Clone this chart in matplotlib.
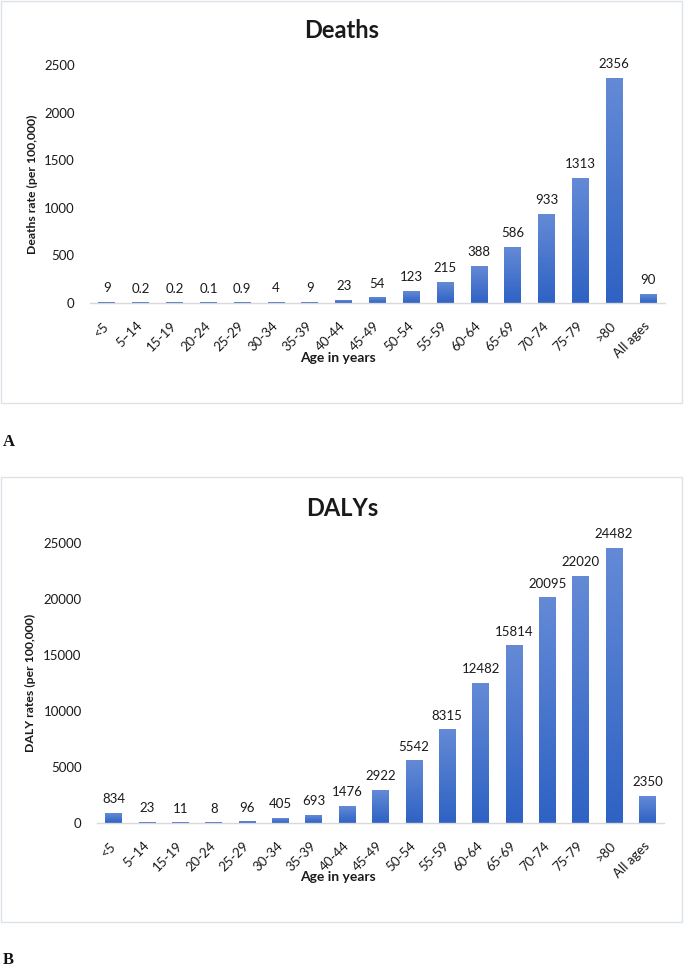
import matplotlib
matplotlib.use("Agg")
import matplotlib.pyplot as plt
import matplotlib.transforms as mtransforms
import numpy as np
from matplotlib.patches import Rectangle

plt.rcParams['font.family'] = ['Lato', 'DejaVu Sans']

age_groups = ["<5", "5–14", "15-19", "20-24", "25-29", "30-34", "35-39", "40-44", "45-49",
              "50-54", "55-59", "60-64", "65-69", "70-74", "75-79", ">80", "All ages"]
deaths = [9, 0.2, 0.2, 0.1, 0.9, 4, 9, 23, 54, 123, 215, 388, 586, 933, 1313, 2356, 90]
dalys = [834, 23, 11, 8, 96, 405, 693, 1476, 2922, 5542, 8315, 12482, 15814, 20095, 22020, 24482, 2350]
death_ticks = [0, 500, 1000, 1500, 2000, 2500]
daly_ticks = [0, 5000, 10000, 15000, 20000, 25000]

W, H = 684, 968
fig = plt.figure(figsize=(W / 100, H / 100), dpi=100)


def fx(px):
    return px / W


def fy(py):
    return 1 - py / H


def panel_box(top, bottom, left=1, right=682):
    fig.add_artist(Rectangle((fx(left), fy(bottom)), fx(right - left), (bottom - top) / H,
                             transform=fig.transFigure, fill=False,
                             edgecolor="#DDE2E8", linewidth=1.0))


top_col = np.array([0x64, 0x8A, 0xD6]) / 255
bot_col = np.array([0x2E, 0x62, 0xC4]) / 255
grad = np.linspace(0, 1, 64)[:, None, None]
grad_img = top_col * (1 - grad) + bot_col * grad  # row 0 = top

TXT = "#1a1a1a"


def draw_chart(ax, values, ticks, title, ylabel, title_y, xlabel_y, ylabel_x, ymax):
    n = len(values)
    x = np.arange(n)
    w = 0.5
    bars = ax.bar(x, values, width=w, color="none", edgecolor="none")
    for b, v in zip(bars, values):
        if v <= 0:
            continue
        ax.imshow(grad_img, extent=[b.get_x(), b.get_x() + w, 0, v],
                  aspect="auto", origin="upper", zorder=2, interpolation="bilinear")
    ax.set_xlim(-0.5, n - 0.5)
    ax.set_ylim(0, ymax)
    ax.set_yticks(ticks)
    ax.set_yticklabels([str(t) for t in ticks], fontsize=9.5, color=TXT)
    ax.set_xticks(x)
    ax.set_xticklabels(age_groups, rotation=45, ha="right", va="center",
                       rotation_mode="anchor", fontsize=9.5, color=TXT)
    off = mtransforms.ScaledTranslation(6 / 100, 0, fig.dpi_scale_trans)
    for lab in ax.get_xticklabels():
        lab.set_transform(lab.get_transform() + off)
    ax.tick_params(axis="both", length=0)
    ax.tick_params(axis="x", pad=15)
    ax.tick_params(axis="y", pad=11)
    for s in ["top", "right", "left"]:
        ax.spines[s].set_visible(False)
    ax.spines["bottom"].set_color("#D9D9D9")
    ax.spines["bottom"].set_linewidth(1.0)
    for xi, v in zip(x, values):
        ax.annotate("{:g}".format(v), (xi, v), xytext=(0, 6), textcoords="offset points",
                    ha="center", va="bottom", fontsize=9.5, color=TXT)
    pos = ax.get_position()
    fig.text(fx(ylabel_x), 0.5 * (pos.y0 + pos.y1), ylabel, rotation=90, ha="center",
             va="center", fontsize=8.8, fontweight="bold", color=TXT)
    fig.text(fx(342), fy(title_y), title, ha="center", va="center",
             fontsize=17, fontweight="bold", color=TXT)
    fig.text(fx(338), fy(xlabel_y), "Age in years", ha="center", va="center",
             fontsize=10, fontweight="bold", color=TXT)


# Panel A
panel_box(1, 403)
axA = fig.add_axes([fx(90), fy(303), fx(665 - 90), (303 - 65) / H])
draw_chart(axA, deaths, death_ticks, "Deaths", "Deaths rate (per 100,000)", 31, 358, 32, 2500)

# Panel B
panel_box(477, 922)
axB = fig.add_axes([fx(97), fy(823), fx(664 - 97), (823 - 543) / H])
draw_chart(axB, dalys, daly_ticks, "DALYs", "DALY rates (per 100,000)", 508, 877, 30, 25000)

fig.text(fx(3), fy(442), "A", ha="left", va="center", fontsize=12, fontweight="bold",
         family="Liberation Serif", color="#111111")
fig.text(fx(3), fy(960), "B", ha="left", va="center", fontsize=12, fontweight="bold",
         family="Liberation Serif", color="#111111")

fig.savefig("out.png", dpi=100)
